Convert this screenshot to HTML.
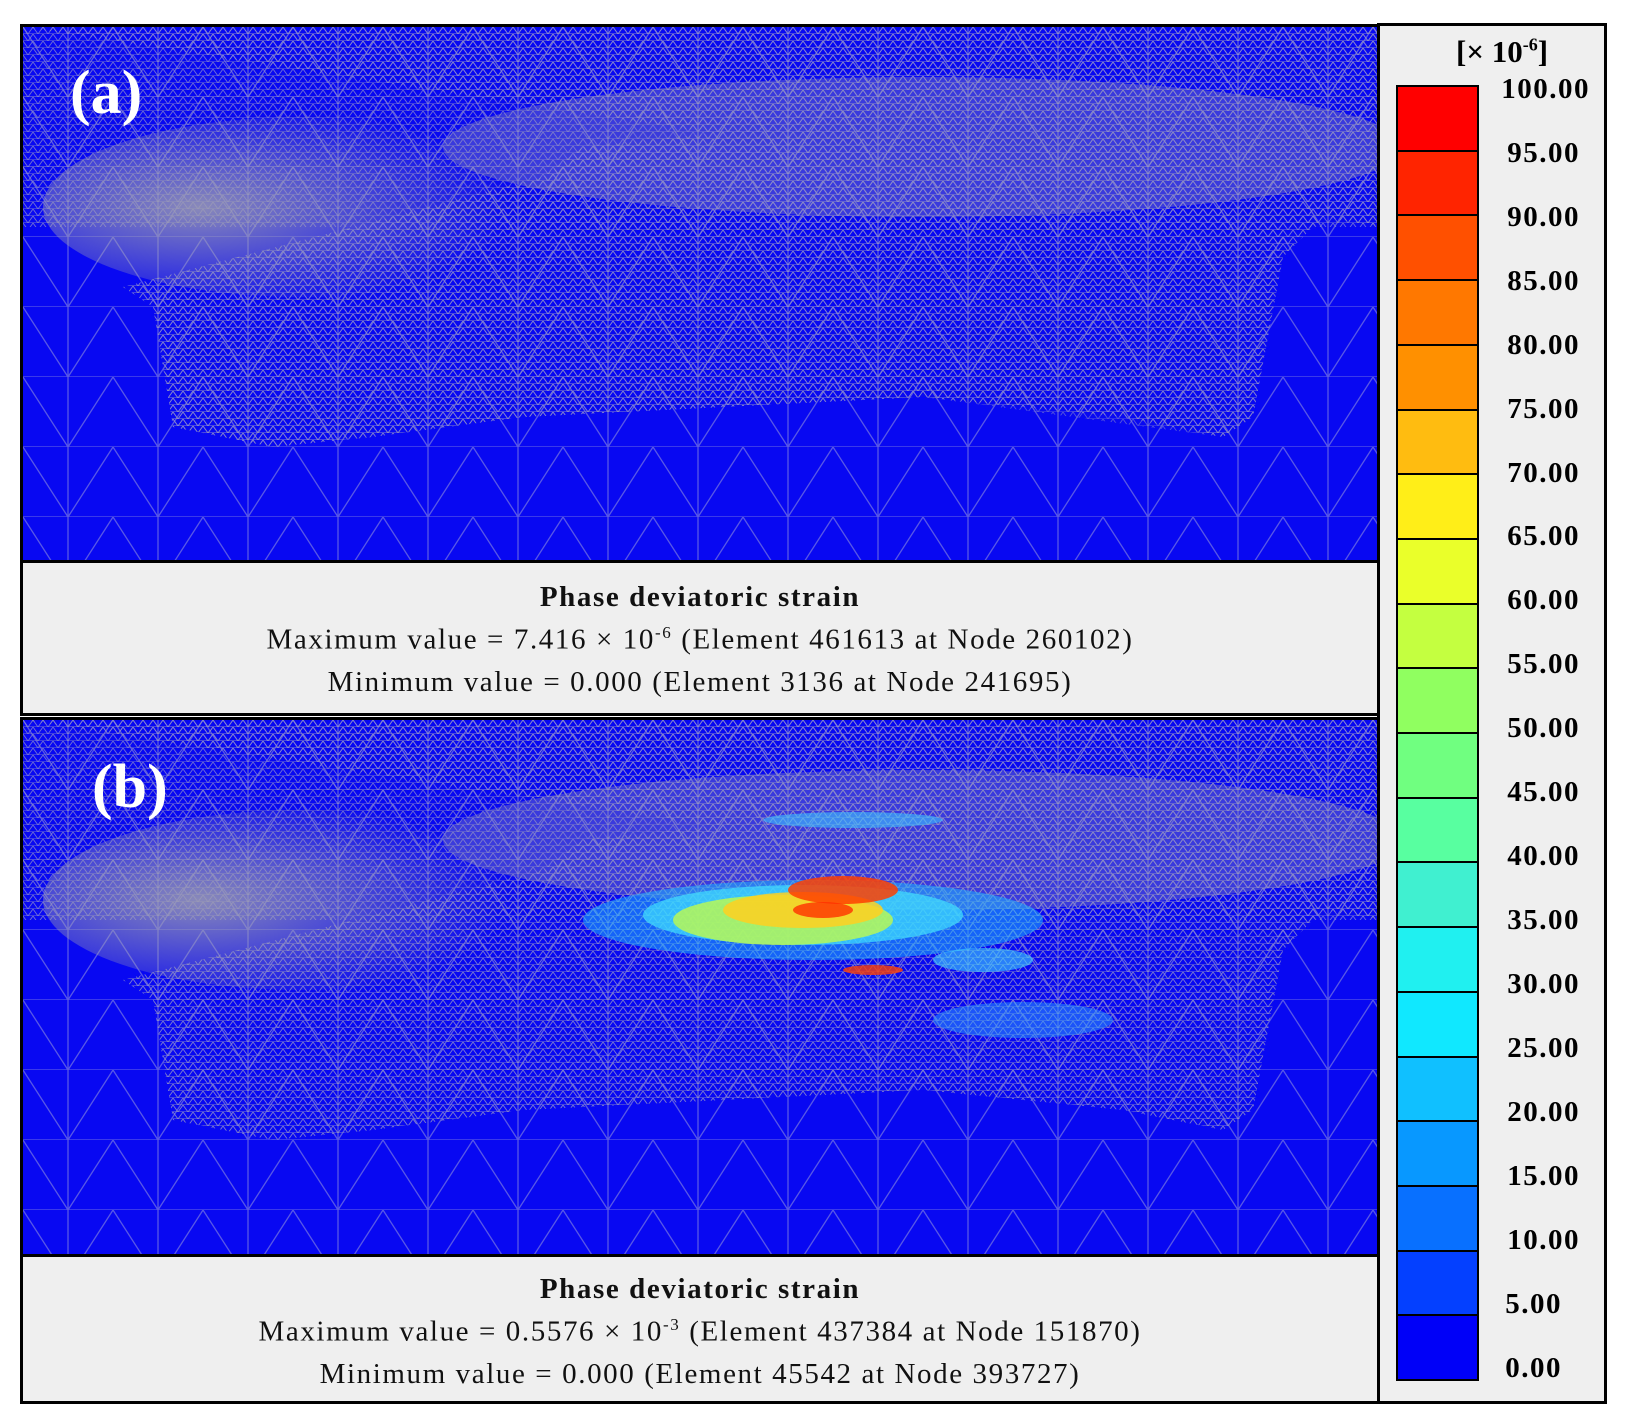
<!DOCTYPE html>
<html><head><meta charset="utf-8"><style>
body{margin:0;width:1633px;height:1427px;background:#fff;position:relative;overflow:hidden;font-family:"Liberation Serif",serif}
.abs{position:absolute}
.img{background:#0a0af5;border:3px solid #000;box-sizing:border-box;overflow:hidden}
.cap{background:#efefef;border:3px solid #000;box-sizing:border-box;text-align:center;color:#111}
.cap div{position:absolute;left:0;right:0;font-size:29px;letter-spacing:1.6px}
.lbl{color:#fff;font-weight:bold;font-size:62px}
.tick{position:absolute;left:1500px;width:90px;text-align:right;font-weight:bold;font-size:29px;letter-spacing:1.5px}
</style></head><body>
<svg width="0" height="0" style="position:absolute"><defs>
<pattern id="tri" width="90" height="70" patternUnits="userSpaceOnUse"><path d="M0 0L45 70L90 0M0 70L90 70M45 70L45 0" stroke="#7a7ae0" stroke-width="1.3" fill="none"/></pattern>
<pattern id="fine" width="10" height="7" patternUnits="userSpaceOnUse"><path d="M0 0L5 7L10 0M0 7L10 7" stroke="#8c8cc8" stroke-width="0.9" fill="none"/></pattern>
<radialGradient id="haze" cx="0.3" cy="0.5" r="0.6"><stop offset="0" stop-color="#a0a0b0" stop-opacity="0.85"/><stop offset="1" stop-color="#a0a0b0" stop-opacity="0"/></radialGradient>
</defs></svg>

<div class="abs img" style="left:20px;top:24px;width:1360px;height:539px">
<svg width="1360" height="539">
<rect width="1360" height="539" fill="#0808f2"/>
<rect width="1360" height="539" fill="url(#tri)" opacity="0.7"/>
<rect width="1360" height="200" fill="url(#fine)" opacity="0.8"/>
<path d="M0 0H1360V200L1300 190L1260 230L1230 390L1200 410L1100 390L900 370L700 380L500 390L350 410L250 420L150 400L130 280L100 260L330 200L520 150L560 120L700 105L900 110L1100 130L1300 200Z" fill="url(#fine)" opacity="0.9"/>
<ellipse cx="280" cy="180" rx="260" ry="90" fill="url(#haze)"/>
<ellipse cx="900" cy="120" rx="480" ry="70" fill="#9898b8" opacity="0.35"/>
<path d="M130 260L330 200L520 150L560 120L900 110L1260 200L1230 390L1200 410L900 370L500 390L250 420L150 400Z" fill="url(#fine)" opacity="0.6"/>
</svg></div>
<div class="abs lbl" style="left:70px;top:58px">(a)</div>
<div class="abs cap" style="left:20px;top:560px;width:1360px;height:156px">
<div style="top:18px;font-weight:bold">Phase deviatoric strain</div>
<div style="top:60px">Maximum value = 7.416 × 10<sup style="font-size:17px">-6</sup> (Element 461613 at Node 260102)</div>
<div style="top:103px">Minimum value = 0.000 (Element 3136 at Node 241695)</div>
</div>

<div class="abs img" style="left:20px;top:717px;width:1360px;height:540px">
<svg width="1360" height="540">
<rect width="1360" height="540" fill="#0808f2"/>
<rect width="1360" height="540" fill="url(#tri)" opacity="0.7"/>
<rect width="1360" height="200" fill="url(#fine)" opacity="0.8"/>
<path d="M0 0H1360V200L1300 190L1260 230L1230 390L1200 410L1100 390L900 370L700 380L500 390L350 410L250 420L150 400L130 280L100 260L330 200L520 150L560 120L700 105L900 110L1100 130L1300 200Z" fill="url(#fine)" opacity="0.9"/>
<ellipse cx="280" cy="180" rx="260" ry="90" fill="url(#haze)"/>
<ellipse cx="900" cy="120" rx="480" ry="70" fill="#9898b8" opacity="0.35"/>
<g>
<ellipse cx="790" cy="200" rx="230" ry="40" fill="#20b0ff" opacity="0.55"/>
<ellipse cx="780" cy="195" rx="160" ry="30" fill="#40e0ff" opacity="0.7"/>
<ellipse cx="760" cy="200" rx="110" ry="25" fill="#c8ff40" opacity="0.75"/>
<ellipse cx="780" cy="190" rx="80" ry="18" fill="#ffd020" opacity="0.85"/>
<ellipse cx="820" cy="170" rx="55" ry="14" fill="#ff4000" opacity="0.85"/>
<ellipse cx="800" cy="190" rx="30" ry="8" fill="#ff3000" opacity="0.8"/>
<ellipse cx="850" cy="250" rx="30" ry="5" fill="#ff4000" opacity="0.8"/>
<ellipse cx="830" cy="100" rx="90" ry="8" fill="#40c0ff" opacity="0.6"/>
<ellipse cx="1000" cy="300" rx="90" ry="18" fill="#30a0ff" opacity="0.5"/>
<ellipse cx="960" cy="240" rx="50" ry="12" fill="#40d0ff" opacity="0.6"/>
</g>
</svg></div>
<div class="abs lbl" style="left:92px;top:752px">(b)</div>
<div class="abs cap" style="left:20px;top:1254px;width:1360px;height:150px">
<div style="top:16px;font-weight:bold">Phase deviatoric strain</div>
<div style="top:58px">Maximum value = 0.5576 × 10<sup style="font-size:17px">-3</sup> (Element 437384 at Node 151870)</div>
<div style="top:101px">Minimum value = 0.000 (Element 45542 at Node 393727)</div>
</div>

<div class="abs" style="left:1377px;top:23px;width:230px;height:1381px;background:#efefef;border:3px solid #000;box-sizing:border-box"></div>
<div class="abs" style="left:1456px;top:34px;font-weight:bold;font-size:31px">[× 10<sup style="font-size:18px">-6</sup>]</div>
<div class="abs" style="left:1396px;top:85px;width:83px;height:1296px;border:2px solid #000;box-sizing:border-box;display:flex;flex-direction:column">
<div style="flex:1;background:#ff0000;border-bottom:2px solid #000"></div>
<div style="flex:1;background:#ff2400;border-bottom:2px solid #000"></div>
<div style="flex:1;background:#ff5000;border-bottom:2px solid #000"></div>
<div style="flex:1;background:#ff7800;border-bottom:2px solid #000"></div>
<div style="flex:1;background:#ff9000;border-bottom:2px solid #000"></div>
<div style="flex:1;background:#ffbc10;border-bottom:2px solid #000"></div>
<div style="flex:1;background:#ffee18;border-bottom:2px solid #000"></div>
<div style="flex:1;background:#eaff2a;border-bottom:2px solid #000"></div>
<div style="flex:1;background:#c4ff40;border-bottom:2px solid #000"></div>
<div style="flex:1;background:#90ff60;border-bottom:2px solid #000"></div>
<div style="flex:1;background:#70ff80;border-bottom:2px solid #000"></div>
<div style="flex:1;background:#58ffa0;border-bottom:2px solid #000"></div>
<div style="flex:1;background:#40f0d0;border-bottom:2px solid #000"></div>
<div style="flex:1;background:#20f0f0;border-bottom:2px solid #000"></div>
<div style="flex:1;background:#10e8ff;border-bottom:2px solid #000"></div>
<div style="flex:1;background:#10c0ff;border-bottom:2px solid #000"></div>
<div style="flex:1;background:#0898ff;border-bottom:2px solid #000"></div>
<div style="flex:1;background:#0870ff;border-bottom:2px solid #000"></div>
<div style="flex:1;background:#0440ff;border-bottom:2px solid #000"></div>
<div style="flex:1;background:#0000f8"></div>
</div>
<div class="tick" style="top:73px">100.00</div>
<div class="tick" style="top:137px;width:80px">95.00</div>
<div class="tick" style="top:201px;width:80px">90.00</div>
<div class="tick" style="top:265px;width:80px">85.00</div>
<div class="tick" style="top:329px;width:80px">80.00</div>
<div class="tick" style="top:393px;width:80px">75.00</div>
<div class="tick" style="top:457px;width:80px">70.00</div>
<div class="tick" style="top:520px;width:80px">65.00</div>
<div class="tick" style="top:584px;width:80px">60.00</div>
<div class="tick" style="top:648px;width:80px">55.00</div>
<div class="tick" style="top:712px;width:80px">50.00</div>
<div class="tick" style="top:776px;width:80px">45.00</div>
<div class="tick" style="top:840px;width:80px">40.00</div>
<div class="tick" style="top:904px;width:80px">35.00</div>
<div class="tick" style="top:968px;width:80px">30.00</div>
<div class="tick" style="top:1032px;width:80px">25.00</div>
<div class="tick" style="top:1096px;width:80px">20.00</div>
<div class="tick" style="top:1160px;width:80px">15.00</div>
<div class="tick" style="top:1224px;width:80px">10.00</div>
<div class="tick" style="top:1288px;width:62px">5.00</div>
<div class="tick" style="top:1352px;width:62px">0.00</div>
</body></html>
